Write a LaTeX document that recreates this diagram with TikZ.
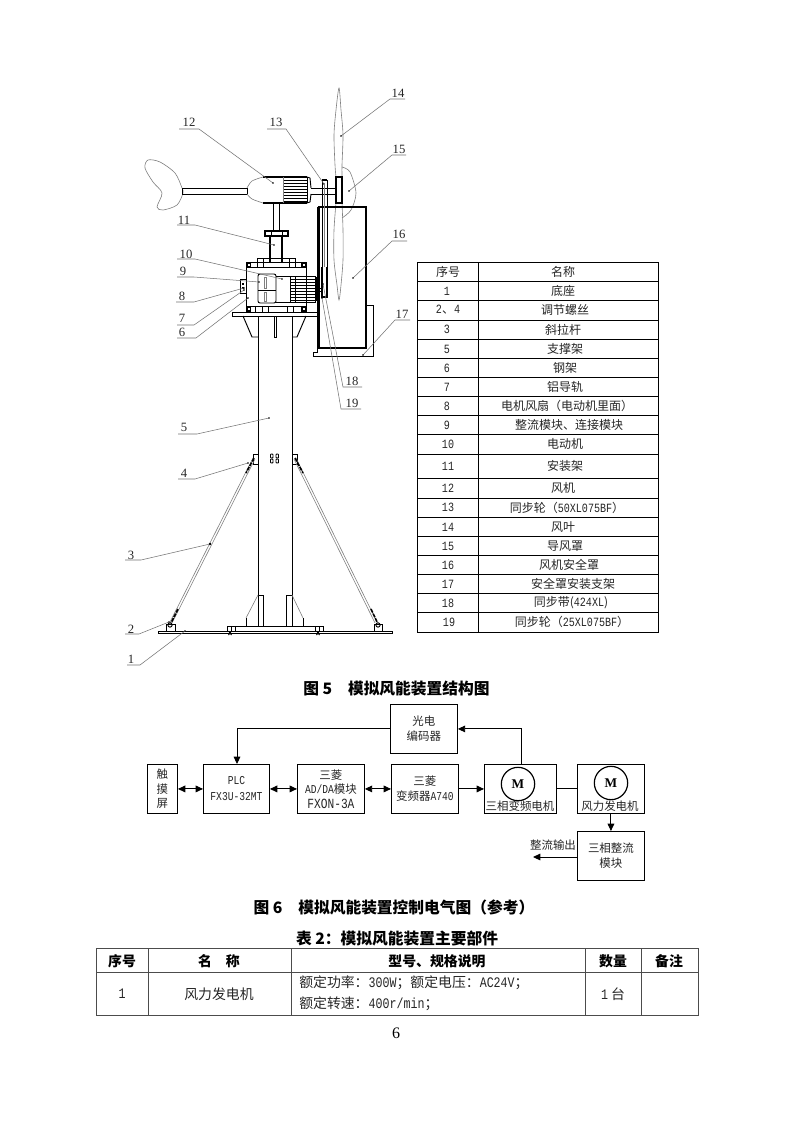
\documentclass[tikz,border=0pt]{standalone}
\usepackage{fontspec}
\usetikzlibrary{arrows.meta}
\setmainfont{Liberation Serif}
\newfontfamily\cjk{Noto Sans CJK SC}
\newfontfamily\latinfont[Scale=1.05,FakeStretch=0.8]{Liberation Mono}
\newcommand{\lat}[1]{{\latinfont #1}}
\tikzset{
    leader/.style={draw=black!55, line width=0.4pt},
    outline/.style={draw=black!50, line width=0.45pt},
    partline/.style={line width=0.7pt},
    heavy/.style={line width=1.3pt},
    rodend/.style={line width=1.2pt, dash pattern=on 3pt off 0.8pt},
    partnum/.style={font=\fontsize{9.5}{10}\selectfont, text=black!85, inner sep=0pt},
    cell/.style={font=\cjk\fontsize{9}{10}\selectfont, text=black!85, inner sep=0pt},
    widecell/.style={font=\cjk\fontsize{10.4}{12}\selectfont, text=black!85, inner sep=0pt},
    caption/.style={font=\cjk\bfseries\fontsize{11.8}{13}\selectfont, inner sep=0pt},
    headcell/.style={font=\cjk\bfseries\fontsize{10.4}{12}\selectfont, inner sep=0pt},
    gridline/.style={line width=0.75pt, draw=black!70},
    blockbox/.style={draw, line width=0.7pt, anchor=north west, inner sep=0pt, align=center,
        font=\cjk\fontsize{8.6}{11}\selectfont, text=black!85},
    motorcircle/.style={draw, circle, line width=0.9pt, minimum size=25pt, inner sep=0pt,
        font=\bfseries\fontsize{10}{10}\selectfont},
    link/.style={line width=0.7pt, -{Triangle[length=5.5pt, width=5pt]}},
    duallink/.style={line width=0.7pt, {Triangle[length=5.5pt, width=5pt]}-{Triangle[length=5.5pt, width=5pt]}}
}

\begin{document}
\begin{tikzpicture}[x=0.75pt, y=-0.75pt]
    \useasboundingbox [fill=white] (0,0) rectangle (794,1123);

    \draw [outline] plot [smooth cycle] coordinates {(182,188) (175,173) (160,162) (148,160) (145,168) (153,182) (162,193) (157,207) (163,210) (177,205) (183,193)};
    \draw [outline] plot [smooth] coordinates {(336,177) (335,165) (334,135) (336,110) (339,88) (341,110) (343,135) (342,165) (342,177)};
    \draw [outline] plot [smooth] coordinates {(336,203) (334,230) (334,260) (337,285) (339,300) (341,285) (343,260) (343,230) (342,203)};
    \draw [outline] plot [smooth] coordinates {(342,167) (350,172) (356,193) (351,210) (342,218)};

    \draw [partline] (182,188) rectangle (247,194);
    \draw [outline] plot [smooth] coordinates {(247,188) (252,181) (263,177)};
    \draw [outline] plot [smooth] coordinates {(247,194) (252,199) (263,203)};
    \draw [heavy] (263,177) -- (307,177);
    \draw [heavy] (263,203) -- (307,203);
    \draw [outline] (283,177) -- (283,203);
    \draw [partline] (307,177) -- (310,178) -- (311,188);
    \draw [partline] (307,203) -- (310,202) -- (311,194);
    \foreach \y in {180,183,...,201} {
        \draw [partline] (284,\y) -- (307,\y);
    }
    \draw [partline] (307,177) -- (307,203);
    \draw [partline] (311,188) -- (336,188);
    \draw [partline] (311,194) -- (336,194);
    \draw [heavy, fill=white] (336,177) rectangle (342,203);

    \draw [partline] (273,203) -- (273,230);
    \draw [partline] (279,203) -- (279,230);
    \draw [heavy] (265,231) rectangle (288,236);
    \draw [partline] (271,231) -- (271,236);
    \draw [partline] (282,231) -- (282,236);
    \draw [heavy] (270,236) -- (270,262);
    \draw [heavy] (282,236) -- (282,262);

    \draw [partline] (246,262) rectangle (306,312);
    \draw [partline] (246,267) -- (306,267);
    \draw [partline] (246,306) -- (306,306);
    \draw [partline] (257,258) -- (295,258);
    \foreach \x in {257,263,289,295} {
        \draw [partline] (\x,258) -- (\x,267);
    }
    \foreach \x in {255,262,268,287,293} {
        \draw [partline] (\x,306) -- (\x,312);
    }
    \foreach \x in {246,301} {
        \fill (\x,262) rectangle (\x+5,267);
        \fill [white] (\x+1.5,263.5) rectangle (\x+3.5,265.5);
        \fill (\x,306) rectangle (\x+5,312);
        \fill [white] (\x+1.5,307.5) rectangle (\x+3.5,310);
    }
    \draw [partline] (232,312) rectangle (318,316);
    \draw [partline, fill=white] (240,279) rectangle (246,293);
    \fill (242,283) rectangle (244,285);
    \fill (242,287) rectangle (244,289);

    \draw [partline, fill=white, rounded corners=1.5pt] (258,274) rectangle (276,303);
    \draw [partline] (258,290) -- (276,290);
    \draw [outline] (264,277) rectangle (266,288);
    \draw [outline] (264,292) rectangle (266,301);
    \draw [partline] (276,276) -- (290,276);
    \draw [partline] (276,302) -- (290,302);
    \draw [partline] (290,276) rectangle (315,302);
    \foreach \y in {279,282,...,300} {
        \draw [partline] (290,\y) -- (315,\y);
    }
    \draw [partline] (295,276) -- (295,302);
    \draw [heavy] (316,277) -- (316,301);
    \draw [partline] (317,288) -- (322,288);
    \draw [partline] (317,291) -- (322,291);

    \draw [heavy] (319,207) rectangle (366,348);
    \draw [partline] (317.5,207) -- (317.5,352) -- (313,352) -- (313,356) -- (373,356) -- (373,305) -- (366,305);
    \draw [partline] (322,180) rectangle (327,297);
    \draw [heavy] (322,267) -- (322,297) -- (327,297) -- (327,267);
    \draw [heavy] (322,180) -- (327,180);
    \draw [outline] (324.5,185) -- (324.5,267);

    \draw [partline] (258,316) -- (258,626);
    \draw [partline] (292,316) -- (292,626);
    \draw [partline] (243,316) -- (252,337) -- (258,337);
    \draw [partline] (306,316) -- (297,337) -- (292,337);
    \draw [partline] (274,316) -- (274,337) -- (276,337) -- (276,316);

    \draw [partline] (253,454) rectangle (258,464);
    \draw [partline] (292,454) rectangle (297,464);
    \foreach \x in {270.5,276} {
        \draw [partline, rounded corners=0.5pt] (\x,454) rectangle (\x+2.5,458);
        \draw [partline, rounded corners=0.5pt] (\x,459) rectangle (\x+2.5,463);
    }

    \draw [outline] (253,458) -- (170,622);
    \draw [outline] (255,459) -- (172,623);
    \draw [outline] (296,458) -- (377,622);
    \draw [outline] (294,459) -- (375,623);
    \draw [rodend] (254,458) -- (246,473);
    \draw [rodend] (295,458) -- (303,473);
    \draw [rodend] (178,609) -- (171,623);
    \draw [rodend] (371,609) -- (378,624);
    \draw [partline, fill=white] (170,625) circle (1.6pt);
    \draw [partline, fill=white] (378,625) circle (1.6pt);
    \draw [partline] (166,631) -- (166,624) -- (175,624) -- (175,631);
    \draw [partline] (374,631) -- (374,624) -- (382,624) -- (382,631);
    \fill (210,544) circle (1.1pt);

    \draw [partline] (158,631) rectangle (392,633);
    \draw [partline] (227,631) -- (227,626) -- (323,626) -- (323,631);
    \foreach \x in {231,235,315,319} {
        \draw [partline] (\x,626) -- (\x,631);
    }
    \foreach \x in {230,318} {
        \draw [partline] (\x-1.5,635) -- (\x+1.5,631);
        \draw [partline] (\x+1.5,635) -- (\x-1.5,631);
    }
    \draw [partline] (258,595) -- (263,595) -- (263,626);
    \draw [partline] (292,595) -- (286,595) -- (286,626);
    \draw [outline] (258,595) -- (246,618);
    \draw [outline] (292,595) -- (303,618);
    \draw [partline] (246,618) -- (246,626);
    \draw [partline] (303,618) -- (303,626);

    \foreach \lab/\lx/\ly/\ux/\uxx/\uy/\ex/\ey in {
        1/131/659/127/140/665/185/631,
        2/131/629/125/139/634/169/622,
        3/131/555/125/141/560/210/544,
        4/184/473/178/195/479/248/463,
        5/184/427/178/197/434/269/418,
        6/182/332/177/196/338/248/298,
        7/182/318/177/194/325/244/290,
        8/182/296/176/194/302/244/288,
        9/183/271/177/194/277/259/282,
        10/186/254/177/195/259/282/279,
        11/184/220/177/195/225/274/245,
        12/189/122/179/199/129/273/183,
        13/276/122/267/286/129/324/184,
        14/398/93/405/390/99/341/136,
        15/399/149/406/392/155/349/191,
        16/399/234/407/392/241/353/278,
        17/402/314/410/395/320/363/355,
        18/352/381/362/343/387/323/284,
        19/352/403/361/341/409/322/298} {
        \node [partnum] (part\lab) at (\lx,\ly) {\lab};
        \coordinate (end\lab) at (\ux,\uy);
        \coordinate (bend\lab) at (\uxx,\uy);
        \coordinate (tip\lab) at (\ex,\ey);
        \draw [leader] (end\lab) -- (bend\lab) -- (tip\lab);
        \fill (tip\lab) circle (0.7pt);
    }

    \draw [partline] (417,262) rectangle (658,632);
    \draw [partline] (478,262) -- (478,632);
    \foreach \y in {281.7,300.7,320,339,358.3,377.3,396.3,415.3,434.3,454,478.7,498,517,536.3,555,574.3,593.3,612.7} {
        \draw [partline] (417,\y) -- (658,\y);
    }
    \foreach \n/\y/\sx/\nx/\seqtext/\nametext in {
        0/272/448/563/{序号}/{名称},
        1/291/447/563/{\lat{1}}/{底座},
        2/310/448/565/{\lat{2}、\lat{4}}/{调节螺丝},
        3/329.5/447/563/{\lat{3}}/{斜拉杆},
        5/349/447/565/{\lat{5}}/{支撑架},
        6/368/447/565/{\lat{6}}/{钢架},
        7/387/447/565/{\lat{7}}/{铝导轨},
        8/406/447/567/{\lat{8}}/{电机风扇（电动机里面）},
        9/425/447/569/{\lat{9}}/{整流模块、连接模块},
        10/444/448/565/{\lat{10}}/{电动机},
        11/466/448/565/{\lat{11}}/{安装架},
        12/488/448/563/{\lat{12}}/{风机},
        13/507.5/448/567/{\lat{13}}/{同步轮（\lat{50XL075BF}）},
        14/527/448/563/{\lat{14}}/{风叶},
        15/546/448/565/{\lat{15}}/{导风罩},
        16/565/448/569/{\lat{16}}/{风机安全罩},
        17/584/448/573/{\lat{17}}/{安全罩安装支架},
        18/603/448/571/{\lat{18}}/{同步带(\lat{424XL})},
        19/622/449/572/{\lat{19}}/{同步轮（\lat{25XL075BF}）}} {
        \node [cell] (seq\n) at (\sx,\y) {\seqtext};
        \node [cell] (name\n) at (\nx,\y) {\nametext};
    }

    \node [caption] (figfive) at (396.5,689) {图 5\hspace{1em}模拟风能装置结构图};

    \node [blockbox, minimum width=50.2pt, minimum height=36.7pt] (encoder) at (390,704) {光电\\编码器};
    \node [blockbox, minimum width=22.5pt, minimum height=36.7pt] (touch) at (147,764) {触\\摸\\屏};
    \node [blockbox, minimum width=49.5pt, minimum height=36.7pt] (plc) at (203,764) {\lat{PLC}\\[1pt]\lat{FX3U-32MT}};
    \node [blockbox, minimum width=50.2pt, minimum height=36.7pt] (adda) at (297,764) {三菱\\\lat{AD/DA}模块\\{\fontsize{10}{11}\selectfont\lat{FXON-3A}}};
    \node [blockbox, minimum width=50.2pt, minimum height=36.7pt] (inverter) at (391,764) {三菱\\变频器\lat{A740}};
    \node [blockbox, minimum width=54pt, minimum height=36.7pt] (motor) at (484,764) {};
    \node [blockbox, minimum width=50.2pt, minimum height=36.7pt] (generator) at (577,764) {};
    \node [blockbox, minimum width=50.2pt, minimum height=36.7pt] (rectifier) at (577,831) {三相整流\\模块};
    \node [motorcircle] (motorm) at (518,784) {M};
    \node [motorcircle] (genm) at (611,783) {M};
    \node [cell, font=\cjk\fontsize{8.6}{10}\selectfont] (motorlabel) at (520,806.5) {三相变频电机};
    \node [cell, font=\cjk\fontsize{8.6}{10}\selectfont] (genlabel) at (610,806.5) {风力发电机};
    \node [cell, font=\cjk\fontsize{8.6}{10}\selectfont] (outlabel) at (553,845) {整流输出};
    \coordinate (outend) at (533,857);
    \coordinate (plctop) at (237,764);
    \coordinate (motortop) at (521,764);

    \draw [link] (encoder.west) -| (plctop);
    \draw [link] (motortop) |- (encoder.east);
    \draw [duallink] (touch.east) -- (plc.west);
    \draw [duallink] (plc.east) -- (adda.west);
    \draw [duallink] (adda.east) -- (inverter.west);
    \draw [link] (inverter.east) -- (motor.west);
    \draw [partline] (motor.east) -- (generator.west);
    \draw [link] (generator.south) -- (rectifier.north);
    \draw [link] (rectifier.west |- outend) -- (outend);

    \node [caption] (figsix) at (394,907) {图 6\hspace{1em}模拟风能装置控制电气图（参考）};
    \node [caption] (tabletitle) at (397,939) {表 2：模拟风能装置主要部件};

    \draw [gridline] (96,948) rectangle (698,1015);
    \draw [gridline] (96,972) -- (698,972);
    \foreach \x in {148,291,585,641} {
        \draw [gridline] (\x,948) -- (\x,1015);
    }
    \node [headcell] (headseq) at (122,961) {序号};
    \node [headcell] (headname) at (219,961) {名\hspace{1em}称};
    \node [headcell] (headspec) at (437,961) {型号、规格说明};
    \node [headcell] (headqty) at (613,961) {数量};
    \node [headcell] (headnote) at (669,961) {备注};
    \node [widecell] (rowseq) at (122,994) {\lat{1}};
    \node [widecell] (rowname) at (219,994) {风力发电机};
    \node [widecell, anchor=west] (rowspeca) at (299,983) {额定功率：\lat{300W}；额定电压：\lat{AC24V}；};
    \node [widecell, anchor=west] (rowspecb) at (299,1004) {额定转速：\lat{400r/min}；};
    \node [widecell] (rowqty) at (613,994) {\lat{1} 台};

    \node [inner sep=0pt, font=\fontsize{12}{14}\selectfont] (pagenum) at (396,1033) {6};
\end{tikzpicture}
\end{document}
